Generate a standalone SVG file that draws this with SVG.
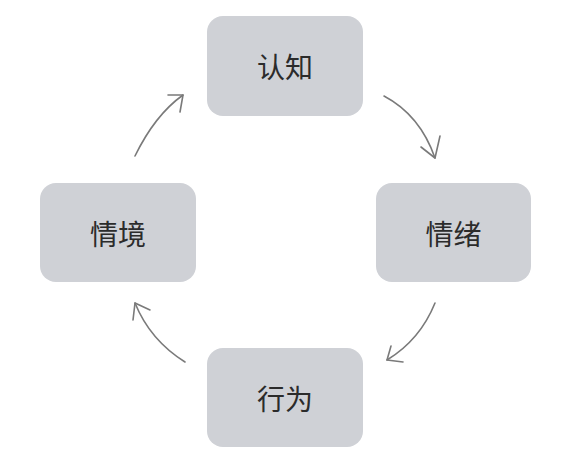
<svg xmlns="http://www.w3.org/2000/svg" width="583" height="467" viewBox="0 0 583 467">
<style>
.box{fill:#cfd1d6;}
.lbl{font-family:"Noto Sans CJK SC","Noto Sans",sans-serif;font-size:28px;fill:#2b2b2b;text-anchor:middle;dominant-baseline:central;}
.arr{fill:none;stroke:#7a7a7a;stroke-width:1.6;stroke-linecap:round;stroke-linejoin:round;}
</style>
<rect width="583" height="467" fill="#ffffff"/>
<g id="node-cognition"><rect class="box" x="207" y="16" width="156" height="100" rx="16"/><text class="lbl" x="285" y="66">认知</text></g>
<g id="node-emotion"><rect class="box" x="376" y="183" width="155" height="99" rx="16"/><text class="lbl" x="453.5" y="232.5">情绪</text></g>
<g id="node-behavior"><rect class="box" x="207" y="348" width="156" height="99" rx="16"/><text class="lbl" x="285" y="397.5">行为</text></g>
<g id="node-situation"><rect class="box" x="40" y="183" width="156" height="99" rx="16"/><text class="lbl" x="118" y="232.5">情境</text></g>
<g id="connectors">
<path class="arr" d="M384,96 Q420,115 435,158"/>
<path class="arr" d="M421,147 L435,158 L440,136"/>
<path class="arr" d="M435,303 Q420,340 387,360"/>
<path class="arr" d="M391,346 L387,360 L403,362"/>
<path class="arr" d="M185,362 Q150,340 135,303"/>
<path class="arr" d="M133,320 L135,303 L150,310"/>
<path class="arr" d="M135,156 Q155,115 183,95"/>
<path class="arr" d="M168,95 L183,95 L180,112"/>
</g>
</svg>
